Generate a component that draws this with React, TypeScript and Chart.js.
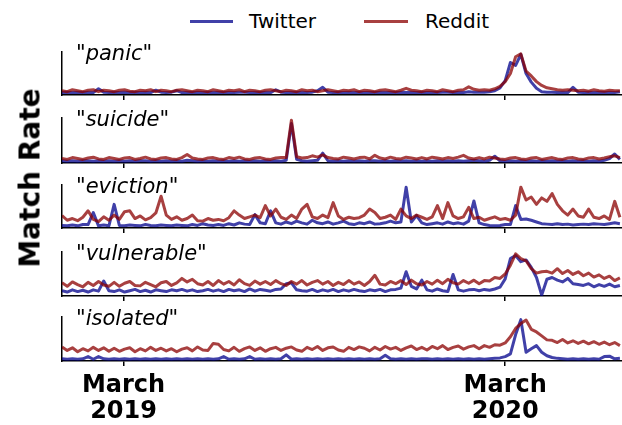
import React, { useEffect, useRef } from 'react';
import { Chart, registerables } from 'chart.js';

Chart.register(...registerables);

// ---------------- data ----------------
const DAY_STEP = 5; // days between samples, starting Jan 1 2019
const X_MAX_DAY = 537;
const TICK_DAYS = [59, 425];
const TICK_LABELS = [['March', '2019'], ['March', '2020']];
const SERIES_NAMES = ['Twitter', 'Reddit'];
const PANEL_TERMS = ['panic', 'suicide', 'eviction', 'vulnerable', 'isolated'];
const PANEL_Y_MAX = [90, 100, 100, 100, 100];
const Y_TITLE = 'Match Rate';

const PANIC_TWITTER = [
  5, 6, 5, 6, 5, 6, 5, 13, 6, 5,
  6, 5, 6, 5, 6, 5, 6, 5, 10, 6,
  5, 6, 9, 5, 6, 5, 6, 5, 6, 5,
  6, 5, 6, 5, 6, 6, 5, 6, 5, 6,
  5, 11, 6, 5, 6, 5, 6, 5, 6, 9,
  16, 6, 5, 6, 5, 6, 5, 6, 5, 6,
  5, 6, 5, 6, 5, 6, 5, 6, 5, 6,
  5, 6, 5, 6, 6, 5, 6, 5, 7, 6,
  6, 6, 7, 9, 15, 30, 68, 62, 85, 45,
  27, 14, 7, 6, 6, 5, 6, 5, 16, 6,
  5, 6, 5, 6, 5, 6, 5, 7,
];
const PANIC_REDDIT = [
  9, 7, 11, 9, 7, 10, 11, 7, 10, 9,
  7, 10, 11, 8, 7, 10, 9, 11, 7, 10,
  9, 7, 10, 11, 9, 7, 10, 9, 7, 11,
  9, 7, 10, 9, 11, 7, 10, 9, 7, 10,
  11, 9, 7, 10, 9, 7, 11, 9, 10, 7,
  9, 11, 9, 7, 10, 9, 11, 7, 10, 9,
  7, 10, 11, 9, 7, 10, 14, 10, 9, 7,
  10, 9, 7, 11, 9, 7, 10, 11, 17, 12,
  10, 11, 10, 13, 18, 28, 45, 80, 86, 50,
  40, 28, 20, 15, 13, 11, 10, 11, 10, 9,
  10, 8, 11, 9, 8, 10, 9, 9,
];

const SUICIDE_TWITTER = [
  5, 4, 5, 4, 5, 5, 4, 5, 4, 5,
  4, 5, 4, 5, 4, 5, 5, 4, 5, 4,
  5, 4, 5, 4, 6, 5, 4, 5, 4, 5,
  4, 5, 4, 5, 4, 5, 4, 5, 4, 5,
  4, 5, 4, 6, 88, 8, 5, 4, 5, 6,
  22, 5, 4, 5, 4, 5, 4, 5, 4, 5,
  5, 4, 5, 4, 5, 4, 5, 4, 5, 4,
  5, 4, 5, 4, 5, 4, 5, 4, 5, 6,
  5, 4, 6, 15, 5, 4, 5, 4, 5, 4,
  5, 4, 5, 4, 5, 4, 5, 4, 5, 4,
  5, 4, 5, 4, 6, 10, 20, 8,
];
const SUICIDE_REDDIT = [
  10, 8, 12, 10, 8, 11, 13, 9, 8, 12,
  10, 8, 11, 12, 8, 10, 13, 9, 8, 11,
  12, 9, 8, 12, 19, 11, 9, 8, 11, 12,
  9, 8, 12, 10, 13, 9, 8, 11, 12, 9,
  8, 11, 12, 12, 95, 14, 11, 12, 16, 13,
  18, 12, 10, 9, 13, 11, 9, 12, 13, 9,
  17, 11, 9, 13, 10, 9, 13, 11, 9, 12,
  9, 13, 11, 9, 12, 10, 13, 17, 11, 9,
  12, 9, 13, 11, 9, 8, 11, 12, 9, 8,
  11, 12, 8, 10, 12, 9, 8, 11, 12, 9,
  8, 11, 12, 9, 11, 14, 16, 12,
];

const EVICTION_TWITTER = [
  6, 5, 7, 5, 8, 8, 36, 5, 7, 5,
  55, 6, 5, 7, 6, 5, 8, 6, 5, 7,
  6, 5, 7, 6, 5, 8, 6, 10, 7, 6,
  8, 6, 10, 7, 12, 9, 8, 31, 12, 10,
  40, 12, 9, 14, 10, 16, 12, 9, 18, 12,
  10, 14, 9, 12, 16, 10, 8, 12, 10, 14,
  9, 10, 12, 16, 12, 14, 95, 14, 29, 12,
  8, 10, 12, 9, 14, 10, 12, 9, 16, 63,
  12, 8, 6, 5, 6, 8, 8, 52, 20, 21,
  18, 14, 10, 9, 8, 10, 8, 9, 7, 8,
  9, 8, 10, 9, 8, 10, 12, 10,
];
const EVICTION_REDDIT = [
  29, 18, 22, 17, 25, 40, 20, 15, 26, 18,
  30, 20, 38, 40, 22, 28, 19, 24, 35, 74,
  30, 20, 26, 18, 22, 30, 17, 16, 22, 18,
  20, 17, 24, 40, 30, 22, 26, 30, 24, 52,
  28, 44, 25, 20, 30, 22, 44, 55, 26, 22,
  30, 24, 59, 28, 20, 25, 22, 24, 30, 44,
  36, 22, 25, 30, 20, 44, 28, 22, 30, 25,
  20, 26, 52, 22, 59, 28, 22, 26, 48, 22,
  25, 18, 22, 26, 20, 22, 18, 30, 95, 65,
  72, 55, 70, 62, 80, 55, 40, 30, 44, 28,
  25, 44, 25, 22, 28, 20, 62, 25,
];

const VULNERABLE_TWITTER = [
  12, 9, 14, 10, 13, 9, 14, 11, 34, 12,
  10, 14, 9, 12, 15, 10, 13, 9, 14, 12,
  10, 14, 12, 15, 11, 14, 10, 12, 15, 11,
  14, 10, 15, 12, 14, 10, 16, 11, 15, 13,
  11, 15, 16, 28, 30, 14, 12, 11, 15, 10,
  14, 11, 15, 10, 14, 11, 15, 12, 10, 14,
  12, 15, 10, 14, 15, 18, 55, 22, 16, 36,
  14, 11, 16, 12, 10, 49, 14, 11, 14, 15,
  12, 15, 13, 16, 20, 39, 85, 92, 78, 82,
  65, 42, 2, 38, 42, 36, 32, 40, 28, 26,
  24, 28, 21, 26, 22, 27, 21, 24,
];
const VULNERABLE_REDDIT = [
  30, 22, 32, 26, 21, 31, 24, 33, 25, 22,
  31, 22, 29, 33, 24, 23, 31, 26, 21, 30,
  33, 24, 30, 40, 32, 38, 28, 25, 33, 24,
  35, 27, 33, 25, 37, 28, 24, 34, 27, 33,
  26, 35, 28, 24, 33, 27, 35, 25, 31, 35,
  27, 33, 24, 31, 26, 35, 27, 32, 24, 33,
  47, 27, 25, 33, 28, 35, 26, 36, 28, 25,
  33, 27, 36, 28, 38, 30, 27, 35, 29, 36,
  28, 35, 34, 42, 40, 50, 70, 96, 85, 80,
  62, 52, 55, 56, 52, 62, 51, 58, 49, 55,
  46, 52, 43, 48, 40, 45, 35, 41,
];

const ISOLATED_TWITTER = [
  5, 4, 5, 4, 5, 10, 4, 10, 5, 4,
  5, 4, 5, 4, 5, 4, 5, 4, 5, 4,
  5, 4, 5, 4, 5, 4, 5, 4, 5, 4,
  5, 10, 4, 5, 4, 5, 10, 4, 5, 4,
  5, 4, 5, 14, 4, 5, 4, 5, 4, 5,
  4, 5, 4, 5, 4, 5, 4, 5, 4, 5,
  4, 5, 13, 5, 4, 5, 4, 5, 4, 5,
  5, 4, 5, 4, 5, 4, 5, 4, 5, 4,
  5, 4, 5, 6, 7, 10, 16, 60, 94, 20,
  28, 35, 20, 12, 8, 6, 5, 4, 5, 4,
  5, 4, 5, 4, 10, 11, 5, 6,
];
const ISOLATED_REDDIT = [
  32, 24, 30, 21, 28, 23, 31, 24, 30, 22,
  29, 22, 27, 30, 21, 28, 23, 31, 24, 29,
  23, 28, 21, 27, 30, 23, 32, 25, 24, 40,
  38, 26, 23, 31, 22, 28, 32, 24, 30, 22,
  28, 31, 24, 29, 32, 25, 22, 31, 26, 33,
  24, 30, 32, 25, 22, 31, 26, 32, 29, 23,
  31, 25, 33, 27, 31, 24, 30, 34, 26, 31,
  25, 33, 28, 35, 26, 31, 34, 27, 32, 35,
  28, 35, 31, 37, 36, 41, 55, 74, 85, 93,
  72, 66, 57, 48, 47, 42, 49, 41, 46, 40,
  45, 39, 44, 38, 43, 37, 42, 35,
];

const TWITTER_SERIES = [PANIC_TWITTER, SUICIDE_TWITTER, EVICTION_TWITTER, VULNERABLE_TWITTER, ISOLATED_TWITTER];
const REDDIT_SERIES = [PANIC_REDDIT, SUICIDE_REDDIT, EVICTION_REDDIT, VULNERABLE_REDDIT, ISOLATED_REDDIT];

// ---------------- style / layout ----------------
const FONT = "'DejaVu Sans', 'Liberation Sans', sans-serif";
const TWITTER_COLOR = 'rgba(0,0,139,0.75)';
const REDDIT_COLOR = 'rgba(139,0,0,0.75)';
const LINE_W = 3;
const W = 622;
const H = 425;
const PLOT_LEFT = 62;
const PANEL_TOPS = [52, 118, 185, 252, 317];
const PANEL_BOTTOMS = [95, 163, 228, 296, 361];
const PAD_TOP = 6;
const AXIS_H_SMALL = 10;
const AXIS_H_BOTTOM = 62;

Chart.defaults.font.family = FONT;

function toXY(values: number[]) {
  return values.map((v, i) => ({ x: i * DAY_STEP, y: v }));
}

function Panel({ idx }: { idx: number }) {
  const ref = useRef<HTMLCanvasElement>(null);
  const isBottom = idx === PANEL_TERMS.length - 1;
  const axisH = isBottom ? AXIS_H_BOTTOM : AXIS_H_SMALL;
  const top = PANEL_TOPS[idx] - PAD_TOP;
  const height = PAD_TOP + (PANEL_BOTTOMS[idx] - PANEL_TOPS[idx]) + axisH;

  useEffect(() => {
    if (!ref.current) return;
    const chart = new Chart(ref.current, {
      type: 'line',
      data: {
        datasets: [
          {
            label: SERIES_NAMES[0],
            data: toXY(TWITTER_SERIES[idx]),
            borderColor: TWITTER_COLOR,
            backgroundColor: TWITTER_COLOR,
            order: 2,
          },
          {
            label: SERIES_NAMES[1],
            data: toXY(REDDIT_SERIES[idx]),
            borderColor: REDDIT_COLOR,
            backgroundColor: REDDIT_COLOR,
            order: 1,
          },
        ],
      },
      options: {
        responsive: false,
        animation: false,
        devicePixelRatio: 1,
        layout: { padding: { left: PLOT_LEFT, right: 0, top: PAD_TOP, bottom: 0 } },
        plugins: { legend: { display: false }, tooltip: { enabled: false }, title: { display: false } },
        elements: {
          point: { radius: 0 },
          line: { borderWidth: LINE_W, tension: 0, fill: false, borderJoinStyle: 'round' },
        },
        scales: {
          x: {
            type: 'linear',
            position: 'bottom',
            min: 0,
            max: X_MAX_DAY,
            afterBuildTicks: (s: any) => {
              s.ticks = TICK_DAYS.map((v) => ({ value: v }));
            },
            afterFit: (s: any) => {
              s.height = axisH;
            },
            grid: {
              display: true,
              drawOnChartArea: false,
              drawTicks: true,
              tickLength: 5,
              color: '#000',
              lineWidth: 1.5,
            },
            border: { display: true, color: '#000', width: 1.5 },
            ticks: {
              display: isBottom,
              autoSkip: false,
              maxRotation: 0,
              padding: 6,
              color: '#000',
              font: { family: FONT, size: 24, weight: 'bold', lineHeight: 1.11 },
              callback: (v: any) => {
                const k = TICK_DAYS.indexOf(Number(v));
                return k >= 0 ? TICK_LABELS[k] : '';
              },
            },
          },
          y: {
            min: 0,
            max: PANEL_Y_MAX[idx],
            grid: { display: false, drawTicks: false },
            ticks: { display: false },
            border: { display: true, color: '#000', width: 1.5 },
            afterFit: (s: any) => {
              s.width = 0;
            },
          },
        },
      } as any,
    });
    return () => chart.destroy();
  }, [idx]);

  return (
    <canvas
      ref={ref}
      width={W}
      height={height}
      style={{ position: 'absolute', left: 0, top, width: W, height, display: 'block' }}
    />
  );
}

export default function App() {
  const titleBaselineOffset = 8.3;
  const titleSize = 21;
  return (
    <div
      style={{
        position: 'fixed',
        left: 0,
        top: 0,
        width: W,
        height: H,
        background: '#fff',
        overflow: 'hidden',
        fontFamily: FONT,
        color: '#000',
      }}
    >
      {PANEL_TERMS.map((_, i) => (
        <Panel key={i} idx={i} />
      ))}

      {PANEL_TERMS.map((term, i) => (
        <div
          key={'t' + term}
          style={{
            position: 'absolute',
            left: 76,
            top: PANEL_TOPS[i] + titleBaselineOffset - titleSize * 0.928,
            fontSize: titleSize,
            lineHeight: 'normal',
            whiteSpace: 'nowrap',
          }}
        >
          "<i>{term}</i>"
        </div>
      ))}

      {/* legend */}
      <div style={{ position: 'absolute', left: 190, top: 19.5, width: 43, height: LINE_W, background: TWITTER_COLOR }} />
      <div style={{ position: 'absolute', left: 249, top: 28 - 18.6, fontSize: 20, lineHeight: 'normal', whiteSpace: 'nowrap' }}>
        {SERIES_NAMES[0]}
      </div>
      <div style={{ position: 'absolute', left: 364, top: 19.5, width: 44, height: LINE_W, background: REDDIT_COLOR }} />
      <div style={{ position: 'absolute', left: 425, top: 28 - 18.6, fontSize: 20, lineHeight: 'normal', whiteSpace: 'nowrap' }}>
        {SERIES_NAMES[1]}
      </div>

      {/* y-axis title */}
      <div
        style={{
          position: 'absolute',
          left: 30,
          top: 178,
          transform: 'translate(-50%, -50%) rotate(-90deg)',
          fontSize: 28,
          fontWeight: 'bold',
          lineHeight: 'normal',
          whiteSpace: 'nowrap',
        }}
      >
        {Y_TITLE}
      </div>
    </div>
  );
}
